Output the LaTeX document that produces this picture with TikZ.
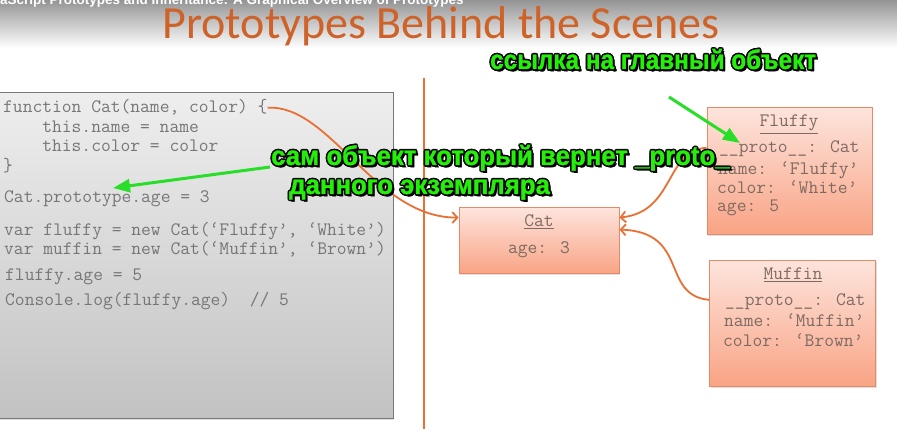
\documentclass[tikz,border=0pt]{standalone}
\usepackage{fontspec}
\usetikzlibrary{arrows.meta,calc,shadows}

\newfontfamily\titlefont{Carlito}
\newfontfamily\capfont{Liberation Sans}
\newfontfamily\notefont{Liberation Sans}[FakeStretch=0.90,FakeBold=1.2]
\newfontfamily\notefontwide{Liberation Sans}[FakeStretch=0.955,FakeBold=1.2]

\definecolor{titleorange}{RGB}{206,98,40}
\definecolor{linkorange}{RGB}{232,112,52}
\definecolor{codegray}{RGB}{118,118,118}
\definecolor{panelline}{RGB}{120,120,120}
\definecolor{paneltop}{RGB}{238,238,238}
\definecolor{panelbottom}{RGB}{194,194,194}
\definecolor{objtop}{RGB}{253,228,220}
\definecolor{objbottom}{RGB}{249,163,132}
\definecolor{objline}{RGB}{228,138,102}
\definecolor{objtext}{RGB}{125,106,98}
\definecolor{notegreen}{RGB}{36,238,10}
\definecolor{pointgreen}{RGB}{40,222,40}

% green caption with a black halo around the glyphs
\newcommand{\halotext}[1]{%
  \begingroup
  \setbox0=\hbox{#1}%
  \def\halocopy##1##2{\rlap{\kern##1\raisebox{##2}{\textcolor{black}{\copy0}}}}%
  \halocopy{-1.6pt}{0pt}\halocopy{1.6pt}{0pt}%
  \halocopy{0pt}{1.6pt}\halocopy{0pt}{-1.6pt}%
  \halocopy{-1.1pt}{-1.1pt}\halocopy{1.1pt}{1.1pt}%
  \halocopy{-1.1pt}{1.1pt}\halocopy{1.1pt}{-1.1pt}%
  \halocopy{2.2pt}{-2.2pt}%
  \textcolor{notegreen}{\box0}%
  \endgroup}

\tikzset{
  codeline/.style={anchor=base west, inner sep=0pt, text=codegray,
    font=\ttfamily\fontsize{19}{21}\selectfont},
  objline/.style={anchor=base west, inner sep=0pt, text=objtext,
    font=\ttfamily\fontsize{19}{21}\selectfont},
  objtitle/.style={anchor=base, inner sep=0pt, text=objtext,
    font=\ttfamily\fontsize{19}{21}\selectfont},
  objbox/.style={draw=objline, line width=1pt, top color=objtop,
    bottom color=objbottom, inner sep=0pt,
    drop shadow={shadow xshift=1pt, shadow yshift=-1.2pt, opacity=0.25}},
  link/.style={draw=linkorange, line width=1.8pt,
    -{Straight Barb[length=5pt,width=11pt,line width=1.8pt]}},
  pointer/.style={draw=pointgreen, line width=3pt,
    -{Triangle[length=17pt,width=13pt]}},
  note/.style={anchor=base west, inner sep=0pt,
    font=\notefont\bfseries\fontsize{27}{29}\selectfont},
  notewide/.style={note, font=\notefontwide\bfseries\fontsize{27}{29}\selectfont},
}

\begin{document}
\begin{tikzpicture}[x=1pt,y=-1pt]
\useasboundingbox (0,0) rectangle (897,443);
\clip (0,0) rectangle (897,443);
\fill[white] (0,0) rectangle (897,443);

% header band
\shade[top color={rgb,255:red,148;green,148;blue,148}, bottom color=white]
  (0,0) rectangle (897,48);
\node[anchor=base west, inner sep=0pt, text=white,
  font=\capfont\bfseries\fontsize{13.5}{15}\selectfont] (caption) at (0,4.5)
  {aScript Prototypes and Inheritance: A Graphical Overview of Prototypes};
\node[anchor=base, inner sep=0pt, text=titleorange,
  font=\titlefont\fontsize{46}{50}\selectfont] (title) at (441,39)
  {Prototypes Behind the Scenes};

% divider
\draw[linkorange, line width=2.4pt] (424,78) -- (424,429);

% code panel
\node[draw=panelline, line width=1pt, top color=paneltop,
  bottom color=panelbottom, minimum width=400pt, minimum height=326pt,
  inner sep=0pt,
  drop shadow={shadow xshift=1pt, shadow yshift=-1.2pt, opacity=0.25}]
  (panel) at (193,256) {};

\node[codeline] (l1) at (3,113) {function Cat(name, color) \{};
\node[codeline] (l2) at (3,133) {\ \ \ \ this.name = name};
\node[codeline] (l3) at (3,152) {\ \ \ \ this.color = color};
\node[codeline] (l4) at (3,172) {\}};
\node[codeline] (l5) at (4,203) {Cat.prototype.age = 3};
\node[codeline] (l6) at (4,236) {var fluffy = new Cat(‘Fluffy’, ‘White’)};
\node[codeline] (l7) at (4,255) {var muffin = new Cat(‘Muffin’, ‘Brown’)};
\node[codeline] (l8) at (5,281) {fluffy.age = 5};
\node[codeline] (l9) at (5,306) {Console.log(fluffy.age)\ \ // 5};

% prototype object and instances
\node[objbox, minimum width=160pt, minimum height=66pt] (cat) at (539,241) {};
\node[objtitle] (catname) at (539,227) {\underline{Cat}};
\node[objtitle] (catage) at (539,254) {age: 3};

\node[objbox, minimum width=165pt, minimum height=127pt] (fluffy) at (789.5,171.5) {};
\node[objtitle] (fname) at (789,127) {\underline{Fluffy}};
\node[objline] (fproto) at (719,153) {\_\_proto\_\_: Cat};
\node[objline] (fnm) at (718,175) {name: ‘Fluffy’};
\node[objline] (fcol) at (717,194) {color: ‘White’};
\node[objline] (fage) at (717,212) {age: 5};

\node[objbox, minimum width=166pt, minimum height=126pt] (muffin) at (792.5,324) {};
\node[objtitle] (mname) at (793,280) {\underline{Muffin}};
\node[objline] (mproto) at (725,306) {\_\_proto\_\_: Cat};
\node[objline] (mnm) at (724,327) {name: ‘Muffin’};
\node[objline] (mcol) at (723,347) {color: ‘Brown’};

% prototype links
\draw[link] (l1.east) .. controls (330,104) and (375,218) ..
  ($(cat.north west)!0.15!(cat.south west)$);
\draw[link] ($(fluffy.north west)!0.315!(fluffy.south west)$)
  .. controls (665,150) and (675,212) ..
  ($(cat.north east)!0.15!(cat.south east)$);
\draw[link] ($(muffin.north west)!0.31!(muffin.south west)$)
  .. controls (660,295) and (690,232) ..
  ($(cat.north east)!0.33!(cat.south east)$);

% notes
\node[note] (noteref) at (490,69) {\halotext{ссылка на главный объект}};
\node[notewide] (noteobj) at (271,165) {\halotext{сам объект который вернет \_proto\_}};
\node[notewide] (noteobj2) at (289,194) {\halotext{данного экземпляра}};

\coordinate (refstart) at (669,97);
\coordinate (refend) at (740,143);
\coordinate (objstart) at (270,167);
\coordinate (objend) at (113,188);
\draw[pointer] (refstart) -- (refend);
\draw[pointer] (objstart) -- (objend);
\end{tikzpicture}
\end{document}
